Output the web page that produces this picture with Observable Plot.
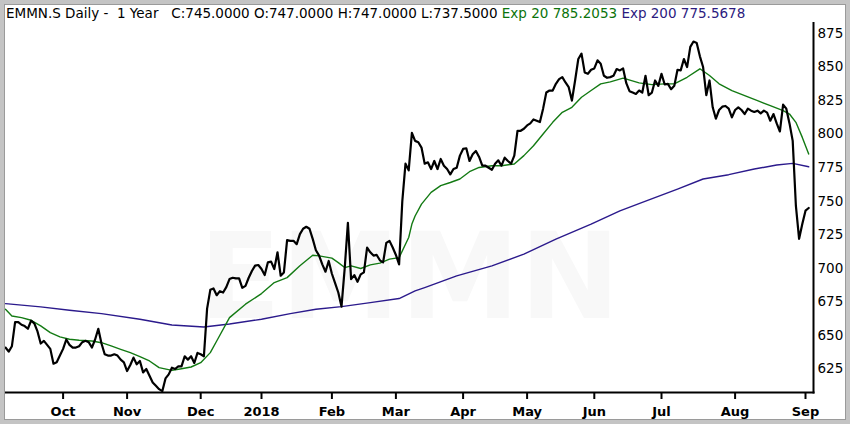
<!DOCTYPE html>
<html><head><meta charset="utf-8">
<script src="https://cdn.jsdelivr.net/npm/d3@7"></script>
<script src="https://cdn.jsdelivr.net/npm/@observablehq/plot@0.6"></script>
<style>
body{margin:0;background:#fff;}
#wrap{position:relative;width:850px;height:424px;overflow:hidden;font-family:"DejaVu Sans",sans-serif;background:#fff;}
#title{position:absolute;left:6px;top:5px;font-size:13.5px;white-space:pre;color:#000;line-height:17px;}
#chart{position:absolute;left:0;top:22px;}
#frame{position:absolute;left:0;top:0;width:850px;height:424px;border:4px solid #c4c4c4;box-sizing:border-box;box-shadow:inset 0 0 0 1px #9a9a9a;pointer-events:none;}
</style></head>
<body>
<div id="wrap">
  <div id="title">EMMN.S Daily -  1 Year   C:745.0000 O:747.0000 H:747.0000 L:737.5000 <span style="color:#0b730b">Exp 20 785.2053</span> <span style="color:#2b1a7e">Exp 200 775.5678</span></div>
  <div id="chart"></div>
  <div id="frame"></div>
</div>
<script>
// Daily closes, one value per trading day (index 0 = mid-Sep 2017)
const closes = [
641,638,642,660,660,658,657,655,661,659,
653,644,646,643,640,629,630,635,640,647,
643,641,641,642,645,646,645,641,647,655,
644,636,635,635,636,635,632,630,623.5,628,
633.5,628.5,631,622.5,625,620,615,612.5,610,608.5,
618,621,626,625,627,627,634.5,632,634.5,629.5,
637,636,634.5,670,684,685,680,683,682,686,
692,693,692.5,692.5,685.5,687,693,698,702,702.5,
699.5,695,704.5,705,699.5,712,694.5,697,721,720.5,
720.5,718,725.5,729.5,731,729.5,722,713.5,709.5,703,
697.5,705.5,696,689,682,671.5,700,734,692,695,
690,695.5,697,715.5,712,709.5,710,706,704.5,719,
720.5,715.5,710,703,750,778,773,801,795,794,
790,778,779,774,780,774,781.5,776.5,774,770,
774,775,784,789,789.5,780,785,787.5,783,776.5,
776.5,775,773.5,778,780.5,776.5,782.5,780,778,784,
802.5,802.5,804,806.5,808,811,810,809,819,831,
832.5,832.5,837.5,841,842.5,838.5,835,825,840,856,
860,846,845,848,849,855,852.5,843.5,842,842.5,
843.5,848.5,847.5,849,838,832,831,830,832.5,831,
843.5,829,831,840,836,845,837,837.5,833.5,836,
848,847.5,856,850,865,869,868,858,850,829,
840,820,811.5,818,820.5,821,819,812.5,818,820,
818,815,819,817.5,816.5,817.5,815.5,817.5,816,810,
815,808,802,822,819,808,795,746.5,722,733,
743,745
];

// Exp 20 moving average, read at trading-day indices
const ema20Day = [0,2,5,8,11,14,17,20,23,27,30,33,36,39,42,45,48,52,55,58,61,64,66,70,75,80,84,88,92,96,98,102,104,106,108,111,114,117,120,123,126,127,128,130,133,136,139,142,145,148,152,155,159,162,165,168,171,174,177,180,183,186,189,193,198,202,206,209,213,217,220,223,227,231,235,239,243,245,247,249,251];
const ema20Val = [669.5,664.5,663.3,661.3,657.1,652.1,648.9,647.2,646.4,645.9,644.6,642.2,639.7,637.2,634.2,631,626,624,625.2,626.5,629.7,637.2,645.9,663.3,673.3,681.2,689.4,693.1,701.9,709.8,709.3,707.6,704.3,700.6,701.9,699.9,702.6,703.9,706.9,708,723,733,739,747.9,756.6,761.6,764,766.6,772,775.2,776.5,776.5,777.8,784,791.4,800.1,808.8,816.3,820,827.5,832.5,837.5,839,841.7,838.2,836.9,837.5,837.5,842.4,848.7,843.7,837.5,832.5,828.7,825,821.2,817.5,815,808.8,797.6,785.2];

// Exp 200 moving average
const ema200Day = [0,11,20,30,42,52,62,70,80,89,97,105,114,123,128,131,141,152,162,172,183,192,199,210,218,226,234,241,246,251];
const ema200Val = [673.7,671.3,668.8,666.3,662.1,657.8,656.3,658.5,662.1,666.3,669.5,671.5,674.5,677.5,683.2,685.7,694.4,701.9,710.6,721.8,733,742.9,749.2,759.1,766.6,769.8,774,777,778.2,775.7];

// Axis ticks
const monthTicks = [18,38,61,80,102,122,143,163,184,205,228,250];
const monthLabels = ["Oct","Nov","Dec","2018","Feb","Mar","Apr","May","Jun","Jul","Aug","Sep"];
const priceTicks = [625,650,675,700,725,750,775,800,825,850,875];

const closeData = closes.map((v, i) => ({day: i, v}));
const ema20 = ema20Day.map((d, i) => ({day: d, v: ema20Val[i]}));
const ema200 = ema200Day.map((d, i) => ({day: d, v: ema200Val[i]}));
const labelMap = new Map(monthTicks.map((t, i) => [t, monthLabels[i]]));

const chart = Plot.plot({
  width: 850,
  height: 402,
  marginTop: 0,
  marginBottom: 32,
  marginLeft: 5,
  marginRight: 37,
  style: {fontFamily: "DejaVu Sans, sans-serif", color: "#000", background: "transparent"},
  x: {domain: [0, 252.5]},
  y: {domain: [607.5, 883.2]},
  marks: [
    Plot.text(["EMMN"], {frameAnchor: "middle", dy: 72, fontSize: 120, fontWeight: "bold", fill: "#f8f8f8"}),
    Plot.line(ema200, {x: "day", y: "v", stroke: "#2b1a8c", strokeWidth: 1.4}),
    Plot.line(ema20, {x: "day", y: "v", stroke: "#137a13", strokeWidth: 1.4}),
    Plot.line(closeData, {x: "day", y: "v", stroke: "#000", strokeWidth: 2.2, strokeLinejoin: "round"}),
    Plot.axisX({ticks: monthTicks, tickFormat: d => labelMap.get(d), tickSize: 7, tickPadding: 7, fontSize: 13, fontWeight: "bold", strokeWidth: 2, label: null}),
    Plot.axisY({anchor: "right", ticks: priceTicks, tickSize: 0, tickPadding: 4, fontSize: 13.5, label: null}),
    Plot.frame({anchor: "bottom", strokeWidth: 2}),
    Plot.frame({anchor: "right", strokeWidth: 2})
  ]
});
document.getElementById("chart").appendChild(chart);
</script>
</body></html>
